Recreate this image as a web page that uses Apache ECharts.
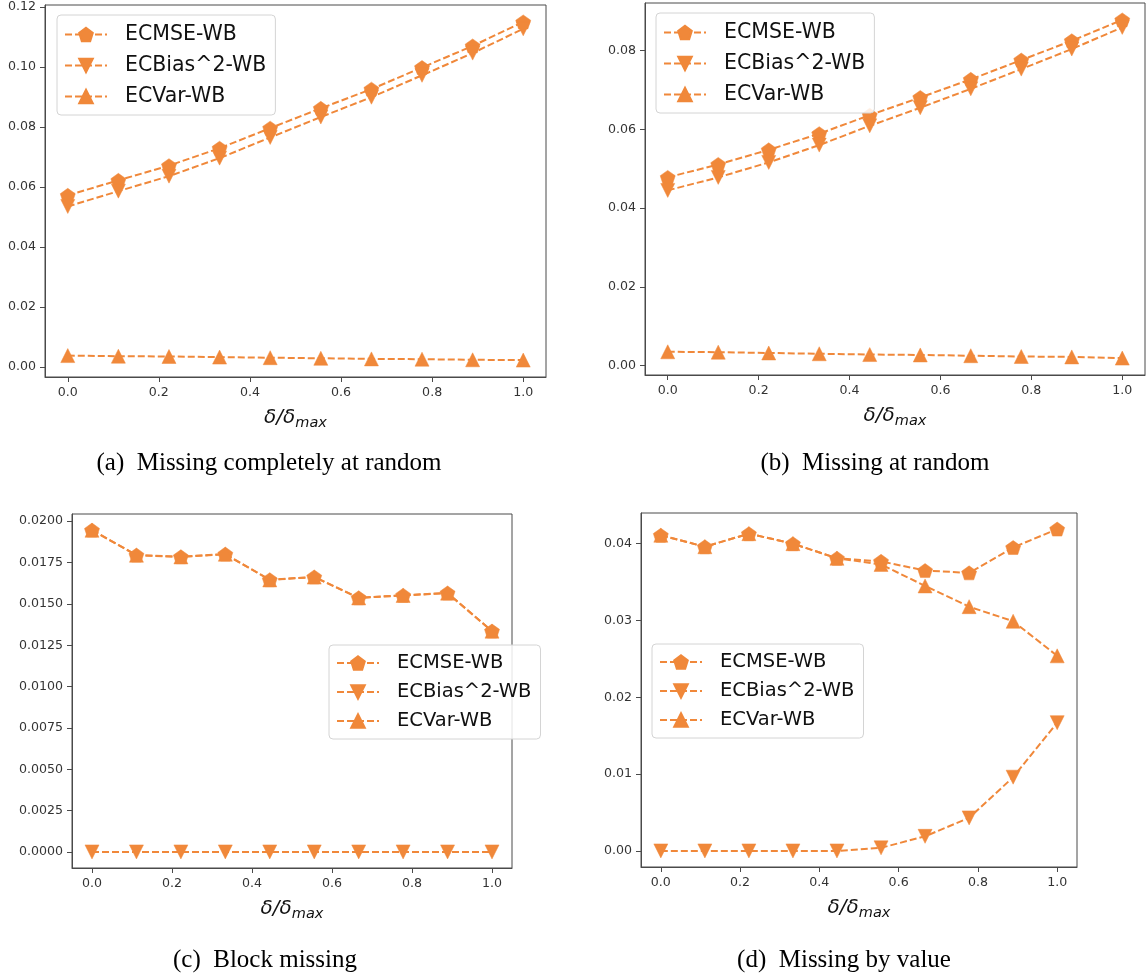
<!DOCTYPE html>
<html><head><meta charset="utf-8">
<script src="https://cdn.jsdelivr.net/npm/echarts@6/dist/echarts.min.js"></script>
<style>html,body{margin:0;padding:0;background:#fff}#c{width:1146px;height:975px}</style>
</head><body><div id="c"></div>
<script>
// ---------- data ----------
const xVals = [0, 0.1111, 0.2222, 0.3333, 0.4444, 0.5556, 0.6667, 0.7778, 0.8889, 1.0];
const seriesNames = ['ECMSE-WB', 'ECBias^2-WB', 'ECVar-WB'];

// (a) Missing completely at random
const mcarMSE  = [0.0572, 0.0622, 0.0671, 0.0729, 0.0796, 0.0862, 0.0926, 0.0998, 0.1070, 0.1150];
const mcarBias = [0.0535, 0.0586, 0.0636, 0.0696, 0.0765, 0.0833, 0.0899, 0.0972, 0.1046, 0.1127];
const mcarVar  = [0.0038, 0.0036, 0.0035, 0.0033, 0.0031, 0.0029, 0.0027, 0.0026, 0.0024, 0.0023];

// (b) Missing at random
const marMSE  = [0.0478, 0.0511, 0.0548, 0.0589, 0.0636, 0.0681, 0.0727, 0.0776, 0.0825, 0.0878];
const marBias = [0.0445, 0.0478, 0.0516, 0.0560, 0.0609, 0.0655, 0.0703, 0.0753, 0.0804, 0.0859];
const marVar  = [0.0035, 0.0034, 0.0032, 0.0030, 0.0028, 0.0027, 0.0025, 0.0023, 0.0022, 0.0019];

// (c) Block missing
const blockMSE  = [0.01946, 0.01795, 0.01785, 0.01801, 0.01646, 0.01663, 0.01537, 0.01552, 0.01566, 0.01336];
const blockBias = [0.00001, 0.00001, 0.00001, 0.00001, 0.00001, 0.00001, 0.00001, 0.00001, 0.00001, 0.00001];
const blockVar  = [0.01945, 0.01794, 0.01784, 0.01800, 0.01645, 0.01662, 0.01536, 0.01551, 0.01565, 0.01335];

// (d) Missing by value
const mbvMSE  = [0.0411, 0.0396, 0.0413, 0.0400, 0.0381, 0.0377, 0.0365, 0.0362, 0.0395, 0.0419];
const mbvBias = [0.0000, 0.0000, 0.0000, 0.0000, 0.0000, 0.0004, 0.0019, 0.0043, 0.0096, 0.0167];
const mbvVar  = [0.0411, 0.0396, 0.0413, 0.0400, 0.0381, 0.0373, 0.0345, 0.0318, 0.0299, 0.0254];

// tick labels
const xTicks  = [0.0, 0.2, 0.4, 0.6, 0.8, 1.0];
const yTicksA = [0.00, 0.02, 0.04, 0.06, 0.08, 0.10, 0.12];
const yTicksB = [0.00, 0.02, 0.04, 0.06, 0.08];
const yTicksC = [0.0000, 0.0025, 0.0050, 0.0075, 0.0100, 0.0125, 0.0150, 0.0175, 0.0200];
const yTicksD = [0.00, 0.01, 0.02, 0.03, 0.04];
const yDecimals = [2, 2, 4, 2];

const captions = ['(a)  Missing completely at random', '(b)  Missing at random', '(c)  Block missing', '(d)  Missing by value'];

// ---------- styling / layout ----------
const ORANGE = '#f0883a';
const AXIS = '#4a4a4a';
const pentagon = 'path://M0,-1L0.9511,-0.309L0.5878,0.809L-0.5878,0.809L-0.9511,-0.309Z';
const triDown = 'path://M-1,-1L1,-1L0,1Z';
const symbols = [pentagon, triDown, 'triangle'];
const symSizes = [[15, 14], [14, 14], [14, 14]];

const panels = [
  {data: [mcarMSE, mcarBias, mcarVar], ticks: yTicksA, grid: {left: 45, top: 5, width: 501, height: 372}, legend: {left: 57, top: 15}, lg: {fs: 20.5, gap: 10, pad: [9, 9, 8, 7]}, cap: [269, 463]},
  {data: [marMSE, marBias, marVar], ticks: yTicksB, grid: {left: 645, top: 3, width: 500, height: 372}, legend: {left: 656, top: 13}, lg: {fs: 20.5, gap: 10, pad: [9, 9, 8, 7]}, cap: [875, 463]},
  {data: [blockMSE, blockBias, blockVar], ticks: yTicksC, grid: {left: 72, top: 514, width: 440, height: 354}, legend: {left: 329, top: 645}, lg: {fs: 19.5, gap: 9, pad: [8, 9, 8, 7]}, cap: [265, 960]},
  {data: [mbvMSE, mbvBias, mbvVar], ticks: yTicksD, grid: {left: 641, top: 513, width: 436, height: 354}, legend: {left: 652, top: 644}, lg: {fs: 19.5, gap: 9, pad: [8, 9, 8, 7]}, cap: [844, 960]}
];

function padRange(arrs) {
  let lo = Infinity, hi = -Infinity;
  arrs.forEach(a => a.forEach(v => { lo = Math.min(lo, v); hi = Math.max(hi, v); }));
  const m = (hi - lo) * 0.05;
  return [lo - m, hi + m];
}

const grids = [], xAxes = [], yAxes = [], legends = [], series = [], graphics = [];
panels.forEach((p, i) => {
  grids.push(Object.assign({show: true, borderColor: AXIS, borderWidth: 1, backgroundColor: 'transparent'}, p.grid));
  const xr = padRange([xVals]);
  xAxes.push({
    type: 'value', gridIndex: i, min: xr[0], max: xr[1],
    splitLine: {show: false}, axisLine: {show: true, onZero: false, lineStyle: {color: AXIS, width: 1}},
    axisTick: {show: true, inside: false, length: 5, customValues: xTicks, lineStyle: {color: AXIS}},
    axisLabel: {customValues: xTicks, formatter: v => v.toFixed(1), color: '#333', fontSize: 12.6, fontFamily: 'DejaVu Sans', margin: 9},
    name: '{i|δ/δ}{s|max}', nameLocation: 'middle', nameGap: 28,
    nameTextStyle: {rich: {
      i: {fontFamily: 'DejaVu Sans', fontStyle: 'italic', fontSize: 20, color: '#111', lineHeight: 21, verticalAlign: 'middle'},
      s: {fontFamily: 'DejaVu Sans', fontStyle: 'italic', fontSize: 14.5, color: '#111', lineHeight: 26, verticalAlign: 'bottom'}
    }}
  });
  const yr = padRange(p.data);
  yAxes.push({
    type: 'value', gridIndex: i, min: yr[0], max: yr[1],
    splitLine: {show: false}, axisLine: {show: true, onZero: false, lineStyle: {color: AXIS, width: 1}},
    axisTick: {show: true, inside: false, length: 5, customValues: p.ticks, lineStyle: {color: AXIS}},
    axisLabel: {customValues: p.ticks, formatter: v => v.toFixed(yDecimals[i]), color: '#333', fontSize: 12.6, fontFamily: 'DejaVu Sans', margin: 9}
  });
  legends.push(Object.assign({
    orient: 'vertical', data: seriesNames, itemWidth: 42, itemHeight: 17, itemGap: p.lg.gap,
    padding: p.lg.pad, backgroundColor: 'rgba(255,255,255,0.85)',
    borderColor: '#d4d4d4', borderWidth: 1, borderRadius: 4,
    textStyle: {fontFamily: 'DejaVu Sans', fontSize: p.lg.fs, color: '#111', padding: [0, 0, 0, 13]},
    selectedMode: false
  }, p.legend));
  p.data.forEach((arr, k) => {
    series.push({
      name: seriesNames[k], type: 'line', xAxisIndex: i, yAxisIndex: i,
      data: xVals.map((x, j) => [x, arr[j]]),
      symbol: symbols[k], symbolSize: symSizes[k],
      itemStyle: {color: ORANGE, borderColor: ORANGE, borderWidth: 0.5, opacity: 1},
      lineStyle: {color: ORANGE, width: 2, type: [7, 3]},
      emphasis: {disabled: true}
    });
  });
  graphics.push({
    type: 'text', x: p.cap[0], y: p.cap[1],
    style: {text: captions[i], font: '25px "Liberation Serif"', fill: '#000', align: 'center', verticalAlign: 'middle'}
  });
});

const chart = echarts.init(document.getElementById('c'), null, {renderer: 'canvas'});
chart.setOption({
  animation: false,
  backgroundColor: '#fff',
  grid: grids, xAxis: xAxes, yAxis: yAxes, legend: legends, series: series, graphic: graphics
});
</script></body></html>
